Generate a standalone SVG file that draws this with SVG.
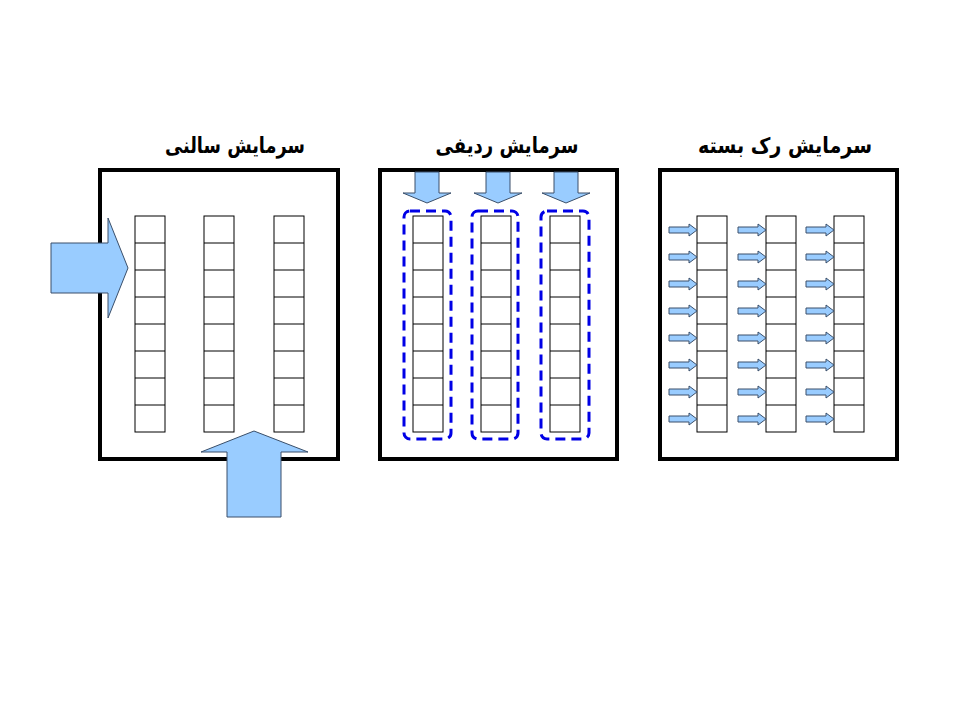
<svg xmlns="http://www.w3.org/2000/svg" xmlns:xlink="http://www.w3.org/1999/xlink" width="960" height="720" viewBox="0 0 960 720">
<style>
.panel{fill:#fff;stroke:#000;stroke-width:4}
.cell{fill:#fff;stroke:#000;stroke-width:1}
.big{fill:#99CCFF;stroke:#3a4f6a;stroke-width:1}
.dash{fill:none;stroke:#0000E6;stroke-width:3;stroke-dasharray:10 6}
.title{font-family:"DejaVu Sans",sans-serif;font-weight:bold;font-size:22px;fill:#000}
</style>
<defs>
<g id="rack">
<rect class="cell" x="0" y="0" width="30" height="216"/>
<path class="cell" d="M0,27H30M0,54H30M0,81H30M0,108H30M0,135H30M0,162H30M0,189H30"/>
</g>
<path id="sa" class="big" d="M-28,-3 L-8,-3 L-8,-6 L0,0 L-8,6 L-8,3 L-28,3 Z"/>
<path id="da" class="big" d="M-12,-31 L12,-31 L12,-10 L24,-10 L0,0 L-24,-10 L-12,-10 Z"/>
</defs>
<rect width="960" height="720" fill="#fff"/>

<g id="panel-hall">
<rect class="panel" x="100" y="170" width="238" height="289"/>
<text class="title" x="235" y="153" text-anchor="middle" textLength="140" lengthAdjust="spacingAndGlyphs">سرمایش سالنی</text>
<use xlink:href="#rack" x="135" y="216"/>
<use xlink:href="#rack" x="204" y="216"/>
<use xlink:href="#rack" x="274" y="216"/>
</g>

<g id="panel-row">
<rect class="panel" x="380" y="170" width="237" height="289"/>
<text class="title" x="507" y="153" text-anchor="middle" textLength="143" lengthAdjust="spacingAndGlyphs">سرمایش ردیفی</text>
<use xlink:href="#rack" x="413" y="216"/>
<use xlink:href="#rack" x="481" y="216"/>
<use xlink:href="#rack" x="550" y="216"/>
<rect class="dash" x="404" y="211" width="47" height="228" rx="6"/>
<rect class="dash" x="472" y="211" width="46" height="228" rx="6"/>
<rect class="dash" x="541" y="211" width="48" height="228" rx="6"/>
</g>

<g id="panel-rack">
<rect class="panel" x="660" y="170" width="237" height="289"/>
<text class="title" x="785" y="153" text-anchor="middle" textLength="174" lengthAdjust="spacingAndGlyphs">سرمایش رک بسته</text>
<use xlink:href="#rack" x="697" y="216"/>
<use xlink:href="#rack" x="766" y="216"/>
<use xlink:href="#rack" x="834" y="216"/>
</g>

<g id="connectors">
<path class="big" d="M51,243 L108,243 L108,218 L128,268 L108,318 L108,293 L51,293 Z"/>
<path class="big" d="M227,517 L227,452 L201,452 L254,431 L308,452 L281,452 L281,517 Z"/>
<use xlink:href="#da" x="427" y="203"/>
<use xlink:href="#da" x="498" y="203"/>
<use xlink:href="#da" x="566" y="203"/>
<g id="small-arrows">
<use xlink:href="#sa" x="697" y="230"/><use xlink:href="#sa" x="766" y="230"/><use xlink:href="#sa" x="834" y="230"/>
<use xlink:href="#sa" x="697" y="257"/><use xlink:href="#sa" x="766" y="257"/><use xlink:href="#sa" x="834" y="257"/>
<use xlink:href="#sa" x="697" y="284"/><use xlink:href="#sa" x="766" y="284"/><use xlink:href="#sa" x="834" y="284"/>
<use xlink:href="#sa" x="697" y="311"/><use xlink:href="#sa" x="766" y="311"/><use xlink:href="#sa" x="834" y="311"/>
<use xlink:href="#sa" x="697" y="338"/><use xlink:href="#sa" x="766" y="338"/><use xlink:href="#sa" x="834" y="338"/>
<use xlink:href="#sa" x="697" y="365"/><use xlink:href="#sa" x="766" y="365"/><use xlink:href="#sa" x="834" y="365"/>
<use xlink:href="#sa" x="697" y="392"/><use xlink:href="#sa" x="766" y="392"/><use xlink:href="#sa" x="834" y="392"/>
<use xlink:href="#sa" x="697" y="419"/><use xlink:href="#sa" x="766" y="419"/><use xlink:href="#sa" x="834" y="419"/>
</g>
</g>
</svg>
